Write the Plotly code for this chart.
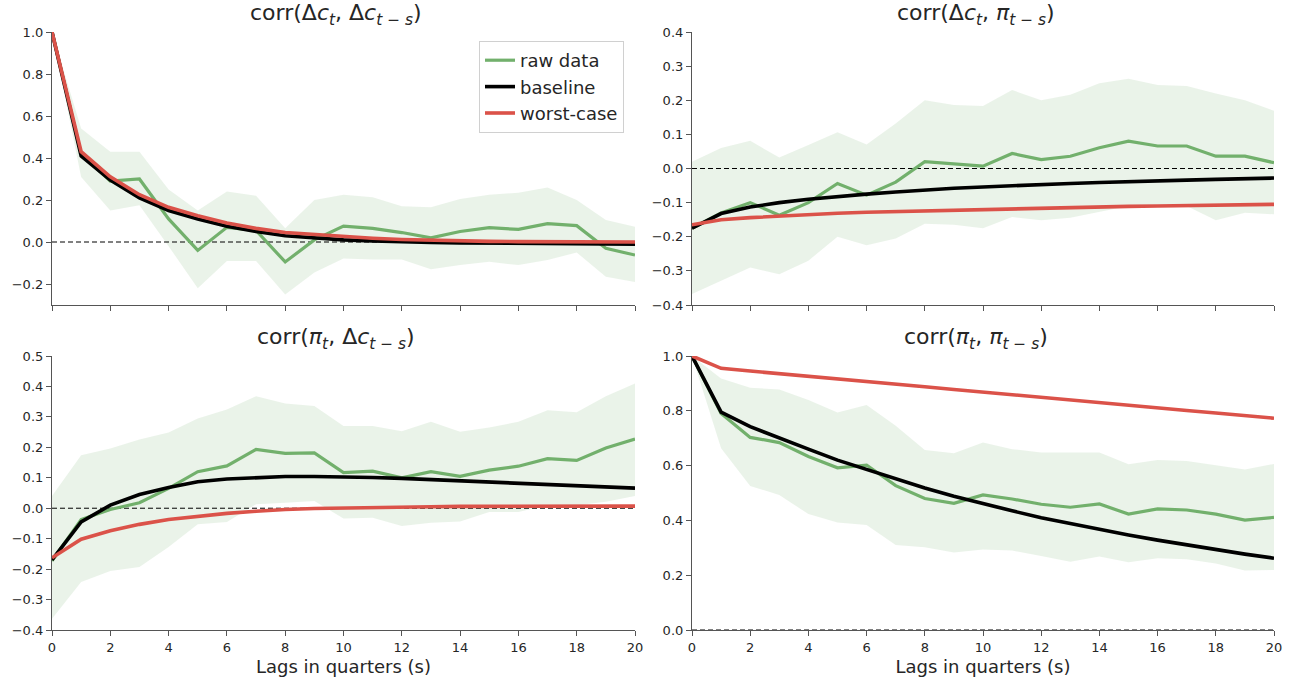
import plotly.graph_objects as go

lags = list(range(21))
xticks = list(range(0, 21, 2))

# Panel 1: corr(dc_t, dc_{t-s})
p1_raw = [1.0, 0.42, 0.29, 0.30, 0.11, -0.04, 0.07, 0.055, -0.095, 0.01, 0.076,
          0.065, 0.045, 0.02, 0.05, 0.068, 0.06, 0.087, 0.078, -0.03, -0.062]
p1_hi = [1.0, 0.54, 0.43, 0.43, 0.25, 0.15, 0.24, 0.22, 0.065, 0.20, 0.225,
         0.213, 0.17, 0.165, 0.205, 0.225, 0.235, 0.26, 0.20, 0.105, 0.073]
p1_lo = [1.0, 0.31, 0.15, 0.175, -0.02, -0.22, -0.09, -0.09, -0.25, -0.145, -0.078,
         -0.083, -0.083, -0.13, -0.11, -0.094, -0.11, -0.086, -0.05, -0.165, -0.19]
p1_base = [1.0, 0.41, 0.295, 0.21, 0.15, 0.11, 0.075, 0.05, 0.03, 0.02, 0.01,
           0.005, 0.0, -0.002, -0.004, -0.005, -0.006, -0.007, -0.008, -0.009, -0.01]
p1_worst = [1.0, 0.43, 0.31, 0.225, 0.165, 0.125, 0.09, 0.065, 0.045, 0.035, 0.025,
            0.018, 0.012, 0.008, 0.005, 0.003, 0.002, 0.001, 0.0, 0.0, 0.0]

# Panel 2: corr(dc_t, pi_{t-s})
p2_raw = [-0.175, -0.13, -0.10, -0.137, -0.10, -0.044, -0.078, -0.04, 0.02, 0.013, 0.007,
          0.044, 0.026, 0.036, 0.061, 0.08, 0.066, 0.066, 0.036, 0.036, 0.017]
p2_hi = [0.02, 0.06, 0.081, 0.032, 0.069, 0.106, 0.07, 0.132, 0.20, 0.186, 0.183,
         0.23, 0.20, 0.216, 0.25, 0.263, 0.245, 0.242, 0.22, 0.20, 0.169]
p2_lo = [-0.368, -0.328, -0.29, -0.31, -0.27, -0.20, -0.225, -0.205, -0.162, -0.165, -0.175,
         -0.142, -0.152, -0.144, -0.127, -0.11, -0.108, -0.11, -0.152, -0.13, -0.134]
p2_base = [-0.175, -0.132, -0.113, -0.10, -0.09, -0.082, -0.075, -0.069, -0.063, -0.058, -0.054,
           -0.05, -0.047, -0.044, -0.041, -0.038, -0.036, -0.034, -0.032, -0.03, -0.028]
p2_worst = [-0.165, -0.15, -0.144, -0.139, -0.135, -0.131, -0.128, -0.126, -0.123, -0.121, -0.119,
            -0.118, -0.116, -0.114, -0.113, -0.111, -0.11, -0.109, -0.107, -0.106, -0.105]

# Panel 3: corr(pi_t, dc_{t-s})
p3_raw = [-0.173, -0.037, -0.004, 0.018, 0.065, 0.12, 0.139, 0.193, 0.18, 0.182, 0.117,
          0.122, 0.10, 0.12, 0.105, 0.125, 0.138, 0.163, 0.157, 0.198, 0.227]
p3_hi = [0.04, 0.174, 0.196, 0.226, 0.249, 0.295, 0.324, 0.368, 0.344, 0.336, 0.27,
         0.27, 0.253, 0.284, 0.251, 0.265, 0.284, 0.322, 0.315, 0.368, 0.41]
p3_lo = [-0.363, -0.242, -0.206, -0.193, -0.127, -0.053, -0.045, 0.013, 0.018, 0.024, -0.034,
         -0.031, -0.058, -0.048, -0.044, -0.012, -0.012, 0.01, 0.01, 0.021, 0.04]
p3_base = [-0.17, -0.045, 0.01, 0.045, 0.068, 0.087, 0.096, 0.101, 0.104, 0.104, 0.103,
           0.101, 0.098, 0.094, 0.09, 0.086, 0.082, 0.078, 0.074, 0.07, 0.066]
p3_worst = [-0.163, -0.102, -0.074, -0.053, -0.037, -0.026, -0.017, -0.01, -0.004, -0.001, 0.001,
            0.003, 0.004, 0.005, 0.006, 0.006, 0.007, 0.007, 0.007, 0.007, 0.007]

# Panel 4: corr(pi_t, pi_{t-s})
p4_raw = [1.0, 0.79, 0.703, 0.684, 0.633, 0.592, 0.602, 0.527, 0.48, 0.462, 0.493,
          0.478, 0.459, 0.448, 0.46, 0.423, 0.442, 0.438, 0.423, 0.401, 0.411]
p4_hi = [1.0, 0.918, 0.884, 0.878, 0.839, 0.794, 0.821, 0.745, 0.657, 0.645, 0.684,
         0.66, 0.648, 0.648, 0.648, 0.605, 0.62, 0.617, 0.602, 0.586, 0.606]
p4_lo = [1.0, 0.663, 0.526, 0.493, 0.423, 0.392, 0.383, 0.31, 0.302, 0.283, 0.294,
         0.29, 0.27, 0.249, 0.268, 0.247, 0.262, 0.258, 0.243, 0.217, 0.219]
p4_base = [1.0, 0.795, 0.742, 0.70, 0.66, 0.62, 0.585, 0.55, 0.518, 0.488, 0.46,
           0.435, 0.41, 0.388, 0.367, 0.347, 0.328, 0.31, 0.293, 0.277, 0.262]
p4_worst = [1.0, 0.955, 0.945, 0.936, 0.926, 0.916, 0.907, 0.897, 0.888, 0.878, 0.868,
            0.859, 0.849, 0.84, 0.83, 0.82, 0.811, 0.801, 0.792, 0.782, 0.773]

titles = [
    "corr(Δ<i>c</i><sub><i>t</i></sub>, Δ<i>c</i><sub><i>t</i> − <i>s</i></sub>)",
    "corr(Δ<i>c</i><sub><i>t</i></sub>, <i>π</i><sub><i>t</i> − <i>s</i></sub>)",
    "corr(<i>π</i><sub><i>t</i></sub>, Δ<i>c</i><sub><i>t</i> − <i>s</i></sub>)",
    "corr(<i>π</i><sub><i>t</i></sub>, <i>π</i><sub><i>t</i> − <i>s</i></sub>)",
]
yranges = [[-0.3, 1.0], [-0.4, 0.4], [-0.4, 0.5], [0.0, 1.0]]
ydticks = [0.2, 0.1, 0.1, 0.2]
xlabel = "Lags in quarters (s)"

panels = [
    (p1_raw, p1_lo, p1_hi, p1_base, p1_worst),
    (p2_raw, p2_lo, p2_hi, p2_base, p2_worst),
    (p3_raw, p3_lo, p3_hi, p3_base, p3_worst),
    (p4_raw, p4_lo, p4_hi, p4_base, p4_worst),
]

GREEN = "#72b06c"
BAND = "rgba(114,176,106,0.15)"
RED = "#db5249"
BLACK = "#000000"
FONT = "DejaVu Sans"

W, H = 1296, 679
ML, MR, MT, MB = 52, 22, 32, 49
pw = W - ML - MR
ph = H - MT - MB
xdoms = [[0.0, (635 - ML) / pw], [(692 - ML) / pw, 1.0]]
ydoms = [[(630 - 305) / ph, 1.0], [0.0, (630 - 356) / ph]]

fig = go.Figure()
layout = {}
annotations = []

for i, (raw, lo, hi, base, worst) in enumerate(panels):
    row, col = divmod(i, 2)
    n = i + 1
    xa = "x" if n == 1 else f"x{n}"
    ya = "y" if n == 1 else f"y{n}"
    first = i == 0
    fig.add_trace(go.Scatter(x=lags, y=lo, xaxis=xa, yaxis=ya, mode="lines",
                             line=dict(width=0, color=BAND), showlegend=False, hoverinfo="skip"))
    fig.add_trace(go.Scatter(x=lags, y=hi, xaxis=xa, yaxis=ya, mode="lines",
                             line=dict(width=0, color=BAND), fill="tonexty", fillcolor=BAND,
                             showlegend=False, hoverinfo="skip"))
    fig.add_trace(go.Scatter(x=lags, y=[0.0] * len(lags), xaxis=xa, yaxis=ya, mode="lines",
                             line=dict(width=1, color="black", dash="5px,3px"),
                             showlegend=False, hoverinfo="skip"))
    fig.add_trace(go.Scatter(x=lags, y=raw, xaxis=xa, yaxis=ya, mode="lines", name="raw data",
                             line=dict(width=3.2, color=GREEN), showlegend=first, legendrank=1))
    fig.add_trace(go.Scatter(x=lags, y=base, xaxis=xa, yaxis=ya, mode="lines", name="baseline",
                             line=dict(width=3.6, color=BLACK), showlegend=first, legendrank=2))
    fig.add_trace(go.Scatter(x=lags, y=worst, xaxis=xa, yaxis=ya, mode="lines", name="worst-case",
                             line=dict(width=3.6, color=RED), showlegend=first, legendrank=3))

    axis_common = dict(showgrid=False, zeroline=False, showline=True, linecolor="#555555",
                       linewidth=1.2, ticks="outside", ticklen=5, tickwidth=1.2,
                       tickcolor="#555555", tickfont=dict(family=FONT, size=13, color="#262626"))
    layout["xaxis" if n == 1 else f"xaxis{n}"] = dict(
        axis_common, domain=xdoms[col], anchor=ya, range=[0, 20], tickvals=xticks,
        showticklabels=(row == 1),
        title=dict(text=xlabel, font=dict(family=FONT, size=18, color="#262626"), standoff=6)
        if row == 1 else None,
    )
    layout["yaxis" if n == 1 else f"yaxis{n}"] = dict(
        axis_common, domain=ydoms[row], anchor=xa, range=yranges[i], dtick=ydticks[i],
        tick0=0, tickformat=".1f",
    )
    annotations.append(dict(
        text=titles[i], xref="paper", yref="paper",
        x=sum(xdoms[col]) / 2 - 0.006, y=ydoms[row][1], xanchor="center", yanchor="bottom",
        yshift=1, showarrow=False, font=dict(family=FONT, size=22, color="#262626"),
    ))

fig.update_layout(
    width=W, height=H,
    margin=dict(l=ML, r=MR, t=MT, b=MB, autoexpand=False),
    paper_bgcolor="white", plot_bgcolor="white",
    font=dict(family=FONT, color="#262626"),
    annotations=annotations,
    legend=dict(x=(624 - ML) / pw, y=(630 - 41) / ph, xanchor="right", yanchor="top",
                bordercolor="#d0d0d0", borderwidth=1, bgcolor="rgba(255,255,255,0.8)",
                font=dict(family=FONT, size=18, color="#262626"), traceorder="normal"),
    showlegend=True,
    **layout,
)

fig.write_html("out.html")
